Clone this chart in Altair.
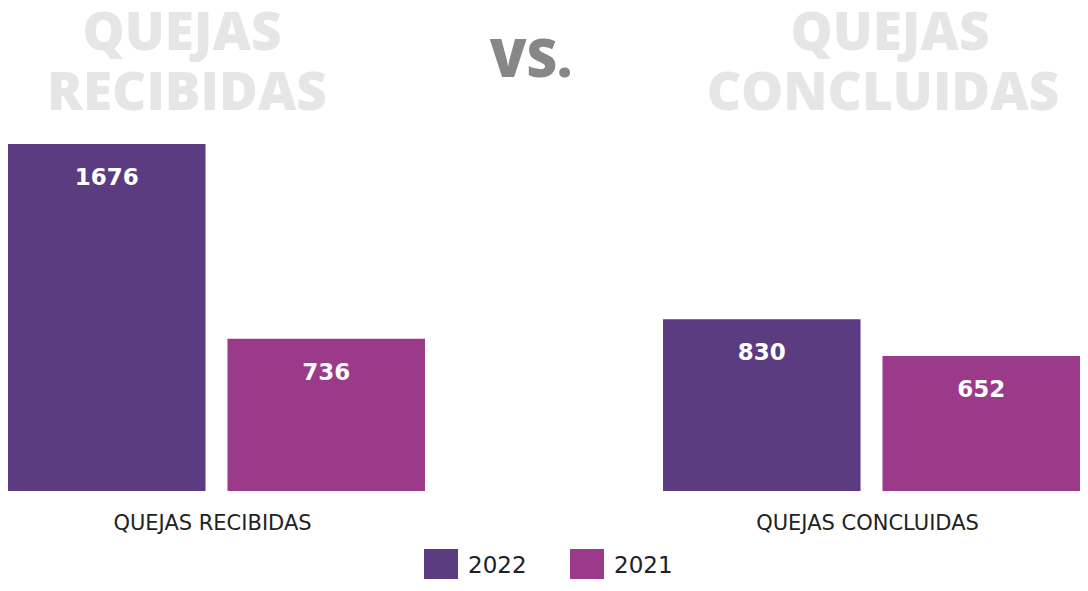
import altair as alt
import pandas as pd

categories = ["QUEJAS RECIBIDAS", "QUEJAS CONCLUIDAS"]
years = ["2022", "2021"]
values_2022 = [1676, 830]
values_2021 = [736, 652]

rows = []
for i, c in enumerate(categories):
    rows.append({"categoria": c, "anio": "2022", "valor": values_2022[i]})
    rows.append({"categoria": c, "anio": "2021", "valor": values_2021[i]})
df = pd.DataFrame(rows)

colors = ["#5c3c80", "#9a3a89"]
TITLE_FONT = "Open Sans"
FONT = "DejaVu Sans"

x_enc = alt.X("categoria:N", sort=categories,
              scale=alt.Scale(paddingInner=0.3634, paddingOuter=0),
              axis=alt.Axis(title=None, labelAngle=0, domain=False, ticks=False,
                            labelFontSize=21, labelColor="#222222", labelFont=FONT,
                            labelPadding=21, labelLimit=500, labelOffset=-4))
xo_enc = alt.XOffset("anio:N", sort=years, scale=alt.Scale(paddingInner=0.1, paddingOuter=0))
y_enc = alt.Y("valor:Q", scale=alt.Scale(domain=[0, 2333], nice=False), axis=None)

bars = alt.Chart(df).mark_bar().encode(
    x=x_enc, xOffset=xo_enc, y=y_enc,
    color=alt.Color("anio:N", sort=years,
                    scale=alt.Scale(domain=years, range=colors),
                    legend=alt.Legend(title=None, orient="none", direction="horizontal",
                                      legendX=416, legendY=541,
                                      symbolType="square", symbolSize=1156,
                                      symbolStrokeWidth=0, symbolOpacity=1,
                                      labelFontSize=23, labelColor="#222222", labelFont=FONT,
                                      labelOffset=10, columnPadding=43))
)

labels = alt.Chart(df).mark_text(color="white", fontSize=23, fontWeight="bold", font=FONT,
                                 baseline="middle", dy=34).encode(
    x=x_enc, xOffset=xo_enc, y=y_enc, text="valor:Q"
)

bg_text = pd.DataFrame([
    {"t": "QUEJAS", "px": 174, "py": 42, "c": "#e6e6e6"},
    {"t": "RECIBIDAS", "px": 179, "py": 102, "c": "#e6e6e6"},
    {"t": "VS.", "px": 523, "py": 69, "c": "#878787"},
    {"t": "QUEJAS", "px": 882, "py": 42, "c": "#e6e6e6"},
    {"t": "CONCLUIDAS", "px": 875, "py": 102, "c": "#e6e6e6"},
])
titles = alt.Chart(bg_text).mark_text(fontSize=53, fontWeight=800, font=TITLE_FONT,
                                      baseline="alphabetic", align="center").encode(
    x=alt.X("px:Q", scale=None), y=alt.Y("py:Q", scale=None),
    text="t:N", color=alt.Color("c:N", scale=None)
)

chart = alt.layer(titles, bars, labels).properties(
    width=1072, height=483,
    background="white",
    autosize=alt.AutoSizeParams(type="none"),
    padding={"left": 0, "top": 0, "right": 0, "bottom": 88},
).configure_view(strokeWidth=0, stroke=None)

chart.save("out.html", embed_options={"renderer": "svg", "actions": False})
